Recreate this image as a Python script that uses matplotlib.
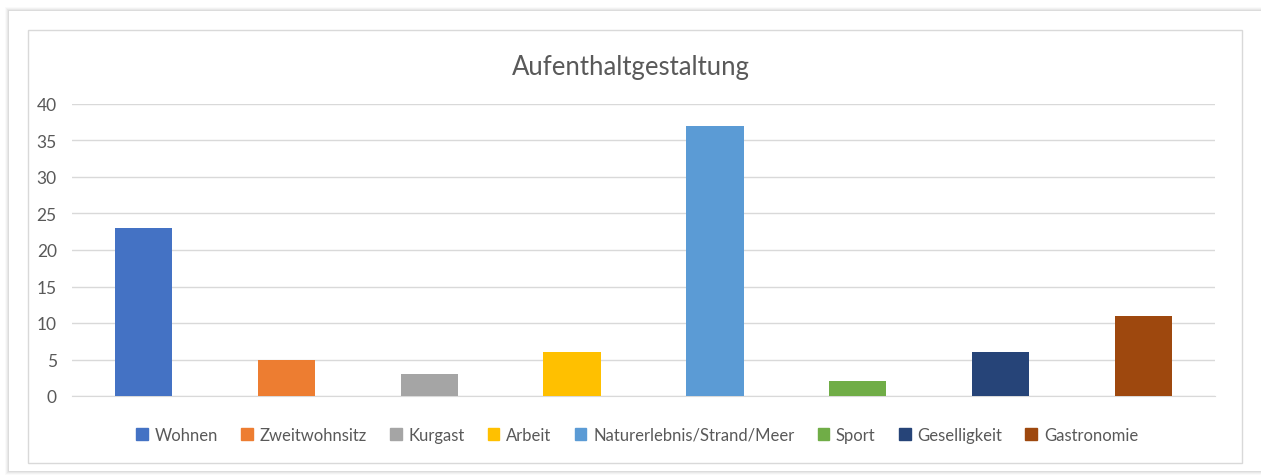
import matplotlib.pyplot as plt
from matplotlib.patches import Rectangle

categories = ['Wohnen', 'Zweitwohnsitz', 'Kurgast', 'Arbeit', 'Naturerlebnis/Strand/Meer',
              'Sport', 'Geselligkeit', 'Gastronomie']
values = [23, 5, 3, 6, 37, 2, 6, 11]
colors = ['#4472C4', '#ED7D31', '#A5A5A5', '#FFC000', '#5B9BD5', '#70AD47', '#264478', '#9E480E']
yticks = [0, 5, 10, 15, 20, 25, 30, 35, 40]

plt.rcParams['font.family'] = ['Lato', 'DejaVu Sans']
W, H = 1261, 477
fig = plt.figure(figsize=(W / 100, H / 100), dpi=100)

def fx(px):
    return px / W

def fy(py):
    return 1 - py / H

# soft shadow of the outer panel
for i, a in enumerate([0.02, 0.03, 0.04, 0.05]):
    d = 4 - i
    fig.patches.append(Rectangle((fx(9 - d), fy(472 + d)), fx(1270 - 9 + 2 * d), fy(12 - d) - fy(472 + d),
                                 transform=fig.transFigure, facecolor='black', alpha=a, edgecolor='none', zorder=-5))
fig.patches.append(Rectangle((fx(9), fy(472)), fx(1270 - 9), fy(12) - fy(472),
                             transform=fig.transFigure, facecolor='white', edgecolor='none', zorder=-4))
fig.patches.append(Rectangle((fx(28), fy(464)), fx(1242 - 28), fy(31) - fy(464),
                             transform=fig.transFigure, facecolor='white', edgecolor='#d9d9d9', lw=1, zorder=-3))

ax = fig.add_axes([fx(72), fy(397), fx(1215 - 72), fy(105) - fy(397)])
ax.patch.set_alpha(0)
x = range(len(categories))
bars = ax.bar(x, values, width=0.4, color=colors, zorder=3)
ax.set_xlim(-0.5, len(categories) - 0.5)
ax.set_ylim(0, 40)
ax.set_yticks(yticks)
ax.set_xticks([])
ax.grid(axis='y', color='#d9d9d9', lw=1, zorder=0)
for s in ['top', 'right', 'left']:
    ax.spines[s].set_visible(False)
ax.spines['bottom'].set_color('#d9d9d9')
ax.tick_params(axis='y', length=0, pad=11, labelsize=12.5, labelcolor='#595959')

fig.text(0.5, fy(67), 'Aufenthaltgestaltung', ha='center', va='center', fontsize=18.5, color='#595959')

handles = [Rectangle((0, 0), 1, 1, color=c) for c in colors]
fig.legend(handles, categories, loc='center', bbox_to_anchor=(fx(637), fy(436)), ncol=8, frameon=False,
           handlelength=0.7, handleheight=0.7, handletextpad=0.4, columnspacing=1.4,
           fontsize=12, labelcolor='#595959')

fig.savefig('out.png', dpi=100)
